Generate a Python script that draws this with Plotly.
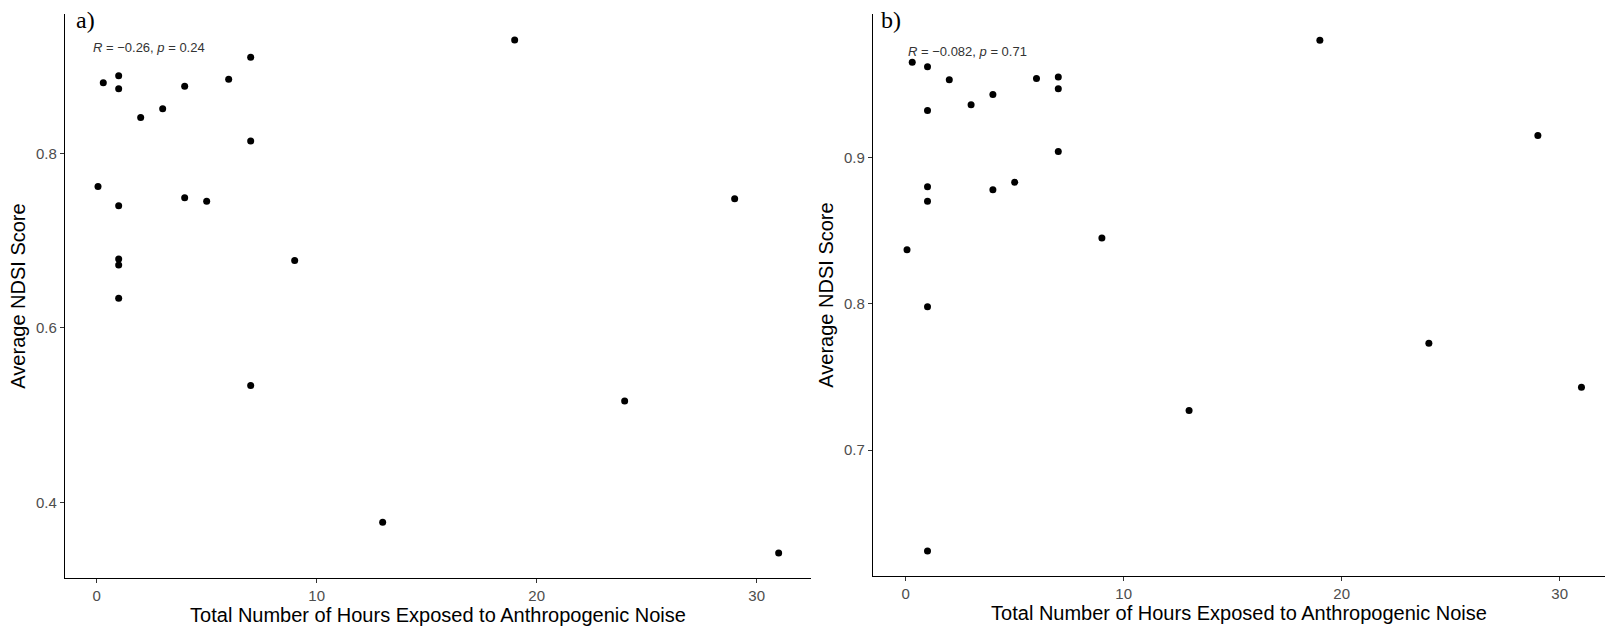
import plotly.graph_objects as go

# ---- data: panel a ----
hours_a = [0.3, 1, 1, 2, 3, 4, 6, 7, 7, 0.06, 1, 4, 5, 1, 1, 1, 9, 7, 13, 19, 29, 24, 31]
ndsi_a = [0.881, 0.889, 0.874, 0.841, 0.851, 0.877, 0.885, 0.910, 0.814, 0.762, 0.740,
          0.749, 0.745, 0.679, 0.672, 0.634, 0.677, 0.534, 0.377, 0.930, 0.748, 0.516, 0.342]

# ---- data: panel b ----
hours_b = [0.3, 1, 2, 1, 3, 4, 6, 7, 7, 7, 1, 1, 4, 5, 0.06, 9, 1, 1, 13, 19, 29, 24, 31]
ndsi_b = [0.965, 0.962, 0.953, 0.932, 0.936, 0.943, 0.954, 0.955, 0.947, 0.904, 0.880,
          0.870, 0.878, 0.883, 0.837, 0.845, 0.798, 0.631, 0.727, 0.980, 0.915, 0.773, 0.743]

x_ticks = [0, 10, 20, 30]
y_ticks_a = [0.4, 0.6, 0.8]
y_ticks_b = [0.7, 0.8, 0.9]

stats_a = "<i>R</i> = \u22120.26, <i>p</i> = 0.24"
stats_b = "<i>R</i> = \u22120.082, <i>p</i> = 0.71"
x_title = "Total Number of Hours Exposed to Anthropogenic Noise"
y_title = "Average NDSI Score"

W, H = 1605, 630


def px_x(p):
    return p / W


def px_y(p):
    return 1 - p / H


fig = go.Figure()
fig.add_trace(go.Scatter(x=hours_a, y=ndsi_a, mode="markers", xaxis="x", yaxis="y",
                         marker=dict(color="black", size=7), showlegend=False))
fig.add_trace(go.Scatter(x=hours_b, y=ndsi_b, mode="markers", xaxis="x2", yaxis="y2",
                         marker=dict(color="black", size=7), showlegend=False))

tick_font = dict(family="Liberation Sans, Arial, sans-serif", size=15, color="#4D4D4D")
title_font = dict(family="Liberation Sans, Arial, sans-serif", size=20, color="black")

common_x = dict(showline=True, linecolor="black", linewidth=1.3, ticks="outside", ticklen=4,
                tickcolor="#333333", tickwidth=1.1, showgrid=False, zeroline=False,
                tickfont=tick_font, tickvals=x_ticks, title=dict(text=x_title, font=title_font, standoff=4))
common_y = dict(showline=True, linecolor="black", linewidth=1.3, ticks="outside", ticklen=4,
                tickcolor="#333333", tickwidth=1.1, showgrid=False, zeroline=False,
                tickfont=tick_font, title=dict(text=y_title, font=title_font, standoff=4))

fig.update_layout(
    width=W, height=H, margin=dict(l=0, r=0, t=0, b=0),
    paper_bgcolor="white", plot_bgcolor="white",
    xaxis=dict(domain=[px_x(65), px_x(811)], range=[-1.44, 32.47], anchor="y", **common_x),
    yaxis=dict(domain=[px_y(578), px_y(14)], range=[0.3132, 0.9597], anchor="x",
               tickvals=y_ticks_a, ticktext=[f"{v:.1f}" for v in y_ticks_a], **common_y),
    xaxis2=dict(domain=[px_x(873), 1.0], range=[-1.5, 32.08], anchor="y2", **common_x),
    yaxis2=dict(domain=[px_y(576), px_y(14)], range=[0.614, 0.998], anchor="x2",
                tickvals=y_ticks_b, ticktext=[f"{v:.1f}" for v in y_ticks_b], **common_y),
)

ann_font = dict(family="Liberation Sans, Arial, sans-serif", size=13, color="#333333")
panel_font = dict(family="Liberation Serif, Times New Roman, serif", size=24, color="black")
fig.add_annotation(text=stats_a, xref="paper", yref="paper", x=px_x(91), y=px_y(48),
                   xanchor="left", yanchor="middle", showarrow=False, font=ann_font)
fig.add_annotation(text=stats_b, xref="paper", yref="paper", x=px_x(906), y=px_y(51),
                   xanchor="left", yanchor="middle", showarrow=False, font=ann_font)
fig.add_annotation(text="a)", xref="paper", yref="paper", x=px_x(74), y=px_y(20),
                   xanchor="left", yanchor="middle", showarrow=False, font=panel_font)
fig.add_annotation(text="b)", xref="paper", yref="paper", x=px_x(879), y=px_y(20),
                   xanchor="left", yanchor="middle", showarrow=False, font=panel_font)

fig.write_html("out.html")
